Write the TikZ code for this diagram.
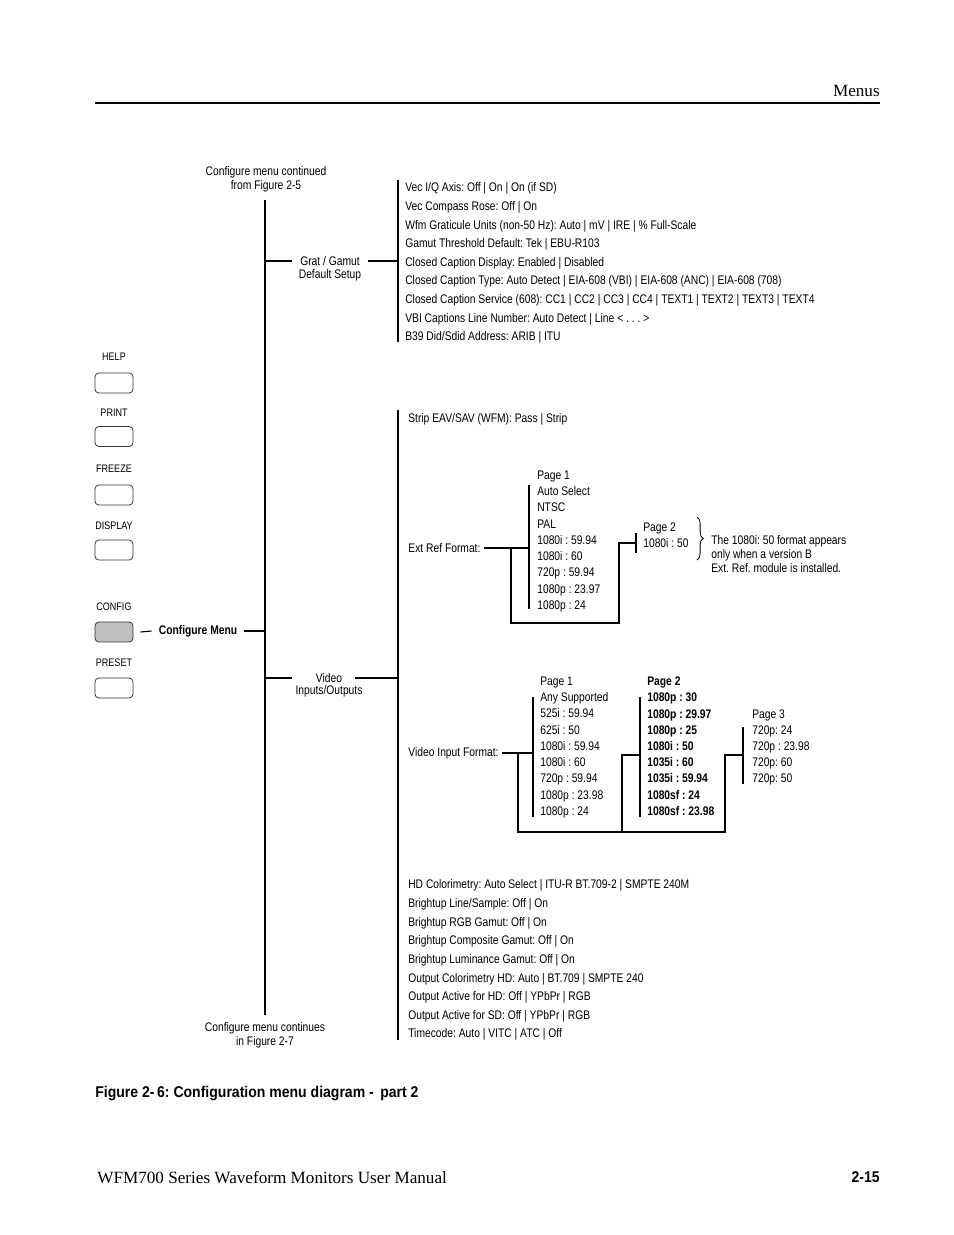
\documentclass[tikz,border=0pt]{standalone}
\usepackage{fontspec}
\setmainfont{Liberation Serif}
\newfontfamily\narrow{Liberation Sans}[FakeStretch=0.825]
\newfontfamily\capfont{Liberation Sans}[FakeStretch=0.9]
\usetikzlibrary{decorations.pathreplacing}
\frenchspacing
\tikzstyle{item} = [inner sep=0pt, font=\narrow\fontsize{8}{10}\selectfont]
\tikzstyle{list} = [anchor=north west, inner sep=0pt, align=left, font=\narrow\fontsize{8}{11.95}\selectfont]
\tikzstyle{page} = [anchor=north west, inner sep=0pt, align=left, font=\narrow\fontsize{8}{10.42}\selectfont]
\tikzstyle{note} = [inner sep=0pt, align=center, font=\narrow\fontsize{8}{9}\selectfont]
\tikzstyle{button} = [rectangle, rounded corners=2.5pt, minimum width=24.4pt, minimum height=12.8pt, draw=black!80, line width=0.5pt]
\tikzstyle{btnlabel} = [inner sep=0pt, font=\narrow\fontsize{7}{8}\selectfont]
\tikzstyle{wire} = [line width=0.7pt]

\begin{document}
\begin{tikzpicture}[x=0.6415pt, y=-0.6415pt]
  \useasboundingbox (0,0) rectangle (954,1235);
  % page header and footer
  \coordinate (rulel) at (95,103);
  \coordinate (ruler) at (880,103);
  \draw [line width=1pt] (rulel) -- (ruler);
  \node (menus) [anchor=base east, inner sep=0pt, font=\fontsize{11}{13}\selectfont] at (880,96) {Menus};
  \node (caption) [anchor=base west, inner sep=0pt, font=\capfont\bfseries\fontsize{10}{12}\selectfont] at (95,1097) {Figure 2-\,6: Configuration menu diagram -\, part 2};
  \node (manual) [anchor=base west, inner sep=0pt, font=\fontsize{11}{13}\selectfont] at (97,1183) {WFM700 Series Waveform Monitors User Manual};
  \node (pagenum) [anchor=base east, inner sep=0pt, font=\capfont\bfseries\fontsize{10}{12}\selectfont] at (880,1182) {2-15};

  % front panel buttons
  \node (helplbl) [btnlabel] at (114,357) {HELP};
  \node (help) [button] at (114,383) {};
  \node (printlbl) [btnlabel] at (114,413) {PRINT};
  \node (print) [button] at (114,436.5) {};
  \node (freezelbl) [btnlabel] at (114,469) {FREEZE};
  \node (freeze) [button] at (114,495) {};
  \node (displaylbl) [btnlabel] at (114,526) {DISPLAY};
  \node (display) [button] at (114,550) {};
  \node (configlbl) [btnlabel] at (114,607) {CONFIG};
  \node (config) [button, fill=black!25] at (114,632) {};
  \node (presetlbl) [btnlabel] at (114,663) {PRESET};
  \node (preset) [button] at (114,688) {};

  % main spine
  \node (contfrom) [note] at (266,179) {Configure menu continued\\from Figure 2-5};
  \node (contin) [note] at (265,1035) {Configure menu continues\\in Figure 2-7};
  \coordinate (spinetop) at (265,200);
  \coordinate (spinebot) at (265,1015);
  \draw [wire] (spinetop) -- (spinebot);

  \node (cfgmenu) [item, inner xsep=4.5pt, font=\narrow\bfseries\fontsize{8}{10}\selectfont] at (198,631) {Configure Menu};
  \draw [wire] ([xshift=4.5pt]config.east) -- (cfgmenu.west);
  \draw [wire] (cfgmenu.east) -- (cfgmenu.east -| spinetop);

  % grat / gamut branch
  \coordinate (gtop) at (398,180);
  \coordinate (gbot) at (398,342);
  \node (grat) [item, inner xsep=4.8pt] at (330,261) {Grat / Gamut};
  \node (gratsub) [item] at (330,275) {Default Setup};
  \draw [wire] (grat.west -| spinetop) -- (grat.west);
  \draw [wire] (gtop) -- (gbot);
  \draw [wire] (grat.east) -- (grat.east -| gtop);
  \node (gratlist) [list] at (405,182.5) {Vec I/Q Axis: Off | On | On (if SD)\\
    Vec Compass Rose: Off | On\\
    Wfm Graticule Units (non-50 Hz): Auto | mV | IRE | \% Full-Scale\\
    Gamut Threshold Default: Tek | EBU-R103\\
    Closed Caption Display: Enabled | Disabled\\
    Closed Caption Type: Auto Detect | EIA-608 (VBI) | EIA-608 (ANC) | EIA-608 (708)\\
    Closed Caption Service (608): CC1 | CC2 | CC3 | CC4 | TEXT1 | TEXT2 | TEXT3 | TEXT4\\
    VBI Captions Line Number: Auto Detect | Line < . . . >\\
    B39 Did/Sdid Address: ARIB | ITU};

  % video inputs/outputs branch
  \coordinate (vtop) at (398,410);
  \coordinate (vbot) at (398,1040);
  \node (video) [item] at (329,678) {Video};
  \node (videosub) [item] at (329,691) {Inputs/Outputs};
  \draw [wire] (video.west -| spinetop) -- ([xshift=-15.4pt]video.west);
  \draw [wire] (vtop) -- (vbot);
  \draw [wire] ([xshift=8.3pt]video.east) -- (video.east -| vtop);
  \node (strip) [item, anchor=base west] at (408,422.5) {Strip EAV/SAV (WFM): Pass | Strip};

  % ext ref format
  \node (extref) [item, anchor=west, inner xsep=2pt] at (405,548) {Ext Ref Format:};
  \coordinate (e1top) at (529,485);
  \coordinate (e1bot) at (529,609);
  \draw [wire] (e1top) -- (e1bot);
  \draw [wire] (extref.east) -- (extref.east -| e1top);
  \node (extp1) [page] at (537,470.5) {Page 1\\Auto Select\\NTSC\\PAL\\1080i : 59.94\\1080i : 60\\720p : 59.94\\1080p : 23.97\\1080p : 24};
  \coordinate (e2top) at (636,533);
  \coordinate (e2bot) at (636,553);
  \coordinate (e2mid) at (636,543);
  \draw [wire] (e2top) -- (e2bot);
  \node (extp2) [page] at (643,522.5) {Page 2\\1080i : 50};
  \coordinate (erdrop) at (511,548);
  \coordinate (errise) at (619,623);
  \draw [wire] (erdrop) |- (errise) |- (e2mid);
  \coordinate (bracetop) at (697,517);
  \coordinate (bracebot) at (697,560);
  \draw [decorate, decoration={brace, amplitude=4pt}, line width=0.5pt] (bracetop) -- (bracebot);
  \node (vernote) [note, align=left, anchor=north west] at (711,535.5) {The 1080i: 50 format appears\\only when a version B\\Ext. Ref. module is installed.};

  % video input format
  \node (vinfmt) [item, anchor=west, inner xsep=2pt] at (405,753) {Video Input Format:};
  \coordinate (v1top) at (533,697);
  \coordinate (v1bot) at (533,817);
  \draw [wire] (v1top) -- (v1bot);
  \draw [wire] (vinfmt.east) -- (vinfmt.east -| v1top);
  \node (vinp1) [page] at (540,676.5) {Page 1\\Any Supported\\525i : 59.94\\625i : 50\\1080i : 59.94\\1080i : 60\\720p : 59.94\\1080p : 23.98\\1080p : 24};
  \coordinate (v2top) at (640,697);
  \coordinate (v2bot) at (640,817);
  \coordinate (v2mid) at (640,755);
  \draw [wire] (v2top) -- (v2bot);
  \node (vinp2) [page, font=\narrow\bfseries\fontsize{8}{10.42}\selectfont] at (647,676.5) {Page 2\\1080p : 30\\1080p : 29.97\\1080p : 25\\1080i : 50\\1035i : 60\\1035i : 59.94\\1080sf : 24\\1080sf : 23.98};
  \coordinate (v3top) at (743,727);
  \coordinate (v3bot) at (743,784);
  \coordinate (v3mid) at (743,755);
  \draw [wire] (v3top) -- (v3bot);
  \node (vinp3) [page, font=\narrow\fontsize{8}{10.24}\selectfont] at (752,709.5) {Page 3\\720p: 24\\720p : 23.98\\720p: 60\\720p: 50};
  \coordinate (vidrop) at (518,753);
  \coordinate (vbase) at (725,832);
  \coordinate (vjoin) at (622,832);
  \draw [wire] (vidrop) |- (vbase) |- (v3mid);
  \draw [wire] (vjoin) |- (v2mid);

  \node (vidlist) [list] at (408,879.5) {HD Colorimetry: Auto Select | ITU-R BT.709-2 | SMPTE 240M\\
    Brightup Line/Sample: Off | On\\
    Brightup RGB Gamut: Off | On\\
    Brightup Composite Gamut: Off | On\\
    Brightup Luminance Gamut: Off | On\\
    Output Colorimetry HD: Auto | BT.709 | SMPTE 240\\
    Output Active for HD: Off | YPbPr | RGB\\
    Output Active for SD: Off | YPbPr | RGB\\
    Timecode: Auto | VITC | ATC | Off};
\end{tikzpicture}
\end{document}
